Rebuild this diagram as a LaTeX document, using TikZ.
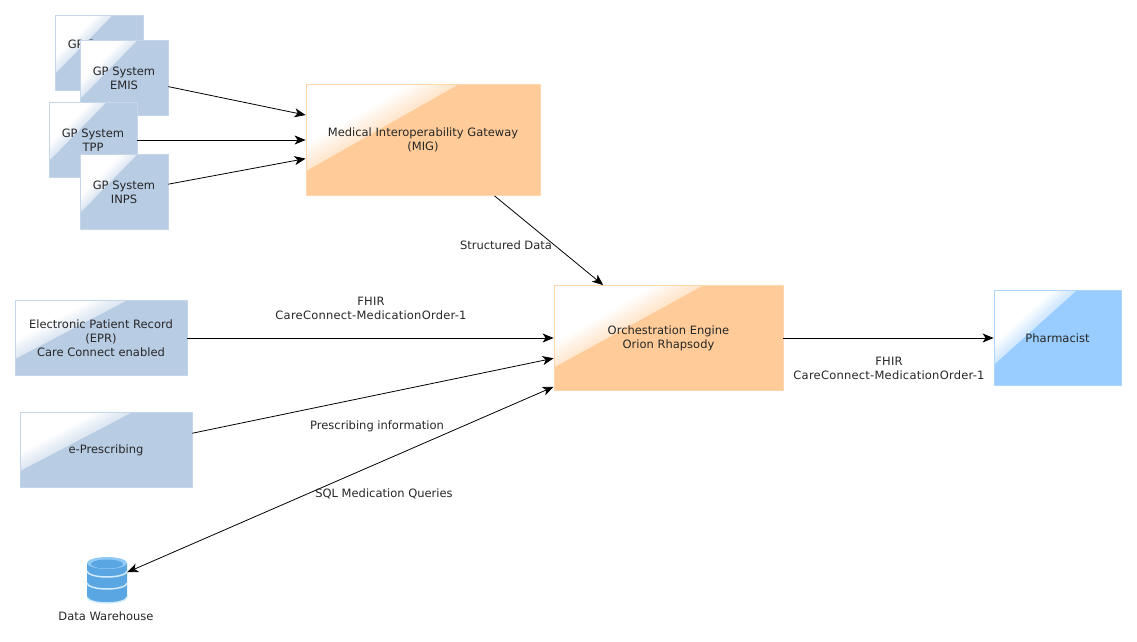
\documentclass[tikz,border=0pt]{standalone}
\usepackage{fontspec}
\setmainfont{DejaVu Sans}
\usetikzlibrary{arrows.meta,calc}
\definecolor{boxblue}{HTML}{B8CCE4}
\definecolor{boxorange}{HTML}{FFCC99}
\definecolor{boxsky}{HTML}{99CCFF}
\definecolor{dbdark}{HTML}{5AA6E2}
\definecolor{dblight}{HTML}{A8DAFC}
\newcommand{\declgloss}[1]{\pgfdeclareverticalshading{gloss#1}{100bp}{color(0bp)=(#1!92!white); color(50bp)=(#1!92!white); color(56bp)=(#1!70!white); color(62bp)=(#1!40!white); color(68bp)=(white); color(100bp)=(white)}}
\declgloss{boxblue}
\declgloss{boxorange}
\declgloss{boxsky}
\tikzset{
    every node/.style={font=\fontsize{11.5}{14}\selectfont, align=center, text=black!85},
    glossy/.style 2 args={fill=#1, draw=#1!80!white, line width=0.8pt, inner sep=0pt,
        path picture={
            \shade[shading=gloss#1, shading angle=#2]
                (path picture bounding box.north west)
                -- ($(path picture bounding box.north west)!0.65!(path picture bounding box.north east)$)
                -- ($(path picture bounding box.north west)!0.78!(path picture bounding box.south west)$)
                -- cycle;
        }},
    gpbox/.style={glossy={boxblue}{45}, minimum width=88pt, minimum height=75pt},
    fhirlabel/.style={font=\fontsize{11.5}{14}\selectfont\addfontfeature{LetterSpace=2}},
    flow/.style={-{Stealth[length=11pt,width=9pt,inset=3pt]}, line width=0.8pt},
    bothflow/.style={{Stealth[length=11pt,width=9pt,inset=3pt]}-{Stealth[length=11pt,width=9pt,inset=3pt]}, line width=0.8pt},
    dbdisk/.style={left color=dbdark, middle color=dblight, right color=dbdark}
}
\begin{document}
\begin{tikzpicture}[x=1pt,y=-1pt]
    \useasboundingbox (0,0) rectangle (1137,641);
    \node[gpbox] (gpa) at (99,53) {GP System\\\strut};
    \node[gpbox] (emis) at (124,78) {GP System\\EMIS};
    \node[gpbox] (tpp) at (93,140) {GP System\\TPP};
    \node[gpbox] (inps) at (124,192) {GP System\\INPS};
    \node[glossy={boxorange}{30}, minimum width=234pt, minimum height=111pt] (mig) at (423,140) {Medical Interoperability Gateway\\(MIG)};
    \node[glossy={boxorange}{30}, minimum width=229pt, minimum height=105pt] (orch) at (668.5,338) {Orchestration Engine\\Orion Rhapsody};
    \node[glossy={boxsky}{42}, minimum width=127pt, minimum height=95pt] (pharm) at (1057.5,338) {Pharmacist};
    \node[glossy={boxblue}{28}, minimum width=172pt, minimum height=75pt] (epr) at (101,338) {Electronic Patient Record\\(EPR)\\Care Connect enabled};
    \node[glossy={boxblue}{28}, minimum width=172pt, minimum height=75pt] (epres) at (106,450) {e-Prescribing};
    \node[minimum width=40pt, minimum height=46pt] (dw) at (107,580) {};
    \node (dwlabel) at (106,616) {Data Warehouse};
    % database icon
    \begin{scope}[shift={(dw.center)}, y=1pt]
        \foreach \ytop/\ybot in {-3/-17, 9/-3, 17/9} {
            \shade[dbdisk] (-20,\ytop) -- (-20,\ybot) arc[start angle=180, end angle=360, x radius=20, y radius=6] -- (20,\ytop) -- cycle;
            \draw[dblight!50!white, line width=1.5pt] (-20,\ybot) arc[start angle=180, end angle=360, x radius=20, y radius=6];
        }
        \fill[dblight!70!dbdark] (0,17) ellipse[x radius=20, y radius=6];
        \fill[dbdark] (0,16) ellipse[x radius=16, y radius=4.5];
    \end{scope}
    \draw[flow] (emis.-11.4) -- (mig.168.5);
    \draw[flow] (tpp.east) -- (mig.west);
    \draw[flow] (inps.10.2) -- (mig.189.6);
    \draw[flow] (mig.-38.9) -- (orch.141.2);
    \draw[flow] (epr.east) -- (orch.west);
    \draw[flow] (epres.11.75) -- (orch.190.3);
    \draw[bothflow] (dw.21.8) -- (orch.203.1);
    \draw[flow] (orch.east) -- (pharm.west);
    \node (lstruct) at (506,245.5) {Structured Data};
    \node[fhirlabel] (lfhira) at (371,308) {FHIR\\CareConnect-MedicationOrder-1};
    \node[fhirlabel] (lfhirb) at (889,368) {FHIR\\CareConnect-MedicationOrder-1};
    \node (lpresc) at (377,426.5) {Prescribing information};
    \node (lsql) at (384,493.5) {SQL Medication Queries};
\end{tikzpicture}
\end{document}
